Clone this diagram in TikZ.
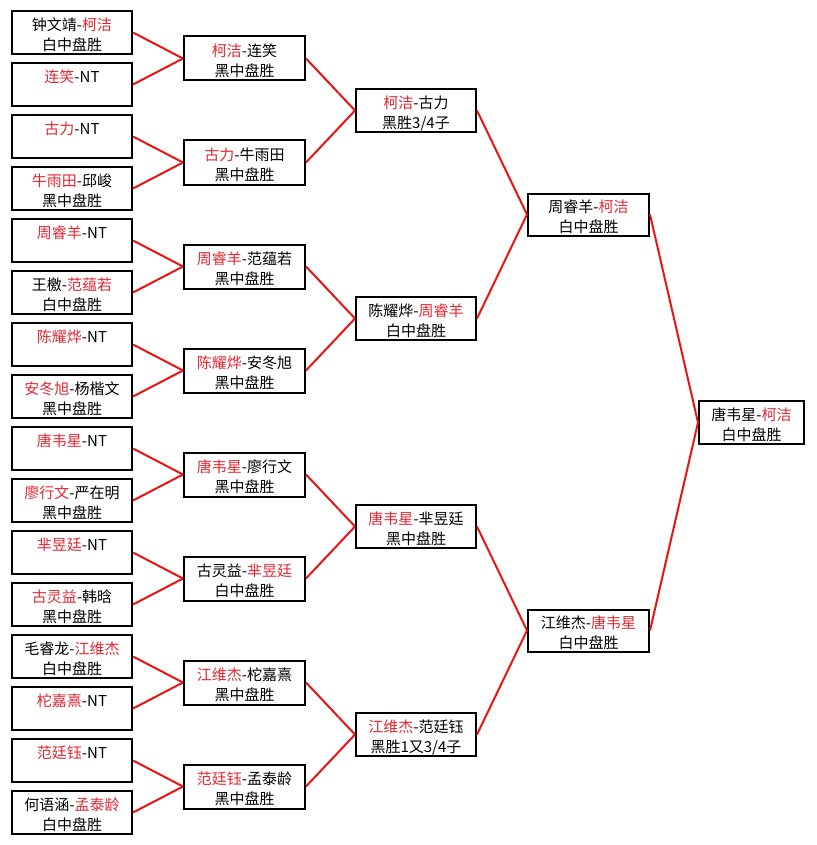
\documentclass[tikz,border=0pt]{standalone}
\usepackage{fontspec}
\setmainfont{Noto Sans CJK SC}
\definecolor{txtred}{RGB}{228,40,50}
\definecolor{linered}{RGB}{235,20,20}
\newcommand{\R}[1]{\textcolor{txtred}{#1}}
\newcommand{\mytwo}[2]{\rule{0pt}{18pt}#1\\\rule[-2.4pt]{0pt}{2.4pt}#2}
\begin{document}
\begin{tikzpicture}[x=1pt,y=-1pt,
  box/.style={draw=black, line width=2pt, fill=white, inner sep=0pt, align=center,
    font=\fontsize{15}{20}\selectfont},
  leaf/.style={box, minimum width=120pt, minimum height=43pt},
  rtwo/.style={box, minimum width=121pt, minimum height=44pt},
  rthree/.style={box, minimum width=120pt, minimum height=43pt},
  rfour/.style={box, minimum width=121pt, minimum height=42pt},
  rfin/.style={box, minimum width=105pt, minimum height=43pt},
  conn/.style={draw=linered, line width=2pt}]
\fill[white] (0,0) rectangle (816,845);
\useasboundingbox (0,0) rectangle (816,845);
% round 1
\node[leaf] (l1)  at (72, 32.5) {\mytwo{钟文靖-\R{柯洁}}{白中盘胜}};
\node[leaf] (l2)  at (72, 84.5) {\mytwo{\R{连笑}-NT}{}};
\node[leaf] (l3)  at (72,136.5) {\mytwo{\R{古力}-NT}{}};
\node[leaf] (l4)  at (72,188.5) {\mytwo{\R{牛雨田}-邱峻}{黑中盘胜}};
\node[leaf] (l5)  at (72,240.5) {\mytwo{\R{周睿羊}-NT}{}};
\node[leaf] (l6)  at (72,292.5) {\mytwo{王檄-\R{范蕴若}}{白中盘胜}};
\node[leaf] (l7)  at (72,344.5) {\mytwo{\R{陈耀烨}-NT}{}};
\node[leaf] (l8)  at (72,396.5) {\mytwo{\R{安冬旭}-杨楷文}{黑中盘胜}};
\node[leaf] (l9)  at (72,448.5) {\mytwo{\R{唐韦星}-NT}{}};
\node[leaf] (l10) at (72,500.5) {\mytwo{\R{廖行文}-严在明}{黑中盘胜}};
\node[leaf] (l11) at (72,552.5) {\mytwo{\R{芈昱廷}-NT}{}};
\node[leaf] (l12) at (72,604.5) {\mytwo{\R{古灵益}-韩晗}{黑中盘胜}};
\node[leaf] (l13) at (72,656.5) {\mytwo{毛睿龙-\R{江维杰}}{白中盘胜}};
\node[leaf] (l14) at (72,708.5) {\mytwo{\R{柁嘉熹}-NT}{}};
\node[leaf] (l15) at (72,760.5) {\mytwo{\R{范廷钰}-NT}{}};
\node[leaf] (l16) at (72,812.5) {\mytwo{何语涵-\R{孟泰龄}}{白中盘胜}};
% round 2
\node[rtwo] (b1) at (244.5, 58.5) {\mytwo{\R{柯洁}-连笑}{黑中盘胜}};
\node[rtwo] (b2) at (244.5,162.5) {\mytwo{\R{古力}-牛雨田}{黑中盘胜}};
\node[rtwo] (b3) at (244.5,266.5) {\mytwo{\R{周睿羊}-范蕴若}{黑中盘胜}};
\node[rtwo] (b4) at (244.5,370.5) {\mytwo{\R{陈耀烨}-安冬旭}{黑中盘胜}};
\node[rtwo] (b5) at (244.5,474.5) {\mytwo{\R{唐韦星}-廖行文}{黑中盘胜}};
\node[rtwo] (b6) at (244.5,578.5) {\mytwo{古灵益-\R{芈昱廷}}{白中盘胜}};
\node[rtwo] (b7) at (244.5,682.5) {\mytwo{\R{江维杰}-柁嘉熹}{黑中盘胜}};
\node[rtwo] (b8) at (244.5,786.5) {\mytwo{\R{范廷钰}-孟泰龄}{黑中盘胜}};
% round 3
\node[rthree] (c1) at (416,110.5) {\mytwo{\R{柯洁}-古力}{黑胜3/4子}};
\node[rthree] (c2) at (416,318.5) {\mytwo{陈耀烨-\R{周睿羊}}{白中盘胜}};
\node[rthree] (c3) at (416,526.5) {\mytwo{\R{唐韦星}-芈昱廷}{黑中盘胜}};
\node[rthree] (c4) at (416,734.5) {\mytwo{\R{江维杰}-范廷钰}{黑胜1又3/4子}};
% round 4
\node[rfour] (d1) at (588.5,214.5) {\mytwo{周睿羊-\R{柯洁}}{白中盘胜}};
\node[rfour] (d2) at (588.5,630.5) {\mytwo{江维杰-\R{唐韦星}}{白中盘胜}};
% final
\node[rfin] (f) at (751.5,422.5) {\mytwo{唐韦星-\R{柯洁}}{白中盘胜}};
% connectors
\foreach \i in {1,...,8} {
  \pgfmathtruncatemacro\ja{2*\i-1}
  \pgfmathtruncatemacro\jb{2*\i}
  \draw[conn] (l\ja.east) -- (b\i.west);
  \draw[conn] (l\jb.east) -- (b\i.west);
}
\foreach \i in {1,...,4} {
  \pgfmathtruncatemacro\ja{2*\i-1}
  \pgfmathtruncatemacro\jb{2*\i}
  \draw[conn] (b\ja.east) -- (c\i.west);
  \draw[conn] (b\jb.east) -- (c\i.west);
}
\draw[conn] (c1.east) -- (d1.west);
\draw[conn] (c2.east) -- (d1.west);
\draw[conn] (c3.east) -- (d2.west);
\draw[conn] (c4.east) -- (d2.west);
\draw[conn] (d1.east) -- (f.west);
\draw[conn] (d2.east) -- (f.west);
\end{tikzpicture}
\end{document}
